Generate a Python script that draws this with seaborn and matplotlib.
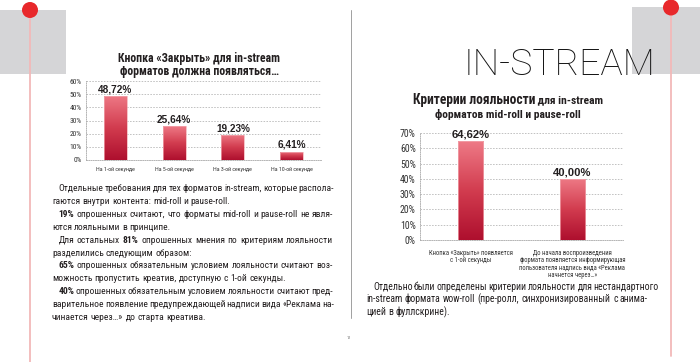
import math
import matplotlib
matplotlib.use("Agg")
import numpy as np
import pandas as pd
import seaborn as sns
import matplotlib.pyplot as plt
from matplotlib import font_manager as fm
from matplotlib.colors import LinearSegmentedColormap
from matplotlib.patches import Rectangle, Circle
from matplotlib.lines import Line2D

# ---------------- data ----------------
left_title_lines = ["Кнопка «Закрыть» для in-stream", "форматов должна появляться…"]
left_categories = ["На 1-ой секунде", "На 5-ой секунде", "На 3-ой секунде", "На 10-ой секунде"]
left_values = [48.72, 25.64, 19.23, 6.41]
left_yticks = [0, 10, 20, 30, 40, 50, 60]

right_title_line1 = [("Критерии лояльности", 1.18), (" для in-stream", 1.0)]
right_title_line2 = "форматов mid-roll и pause-roll"
right_categories = ["Кнопка «Закрыть» появляется\nс 1-ой секунды",
                    "До начала воспроизведения\nформата появляется информирующая\n"
                    "пользователя надпись вида «Реклама\nначнется через…»"]
right_values = [64.62, 40.00]
right_yticks = [0, 10, 20, 30, 40, 50, 60, 70]

heading = "IN-STREAM"
page_number = "12"

# (line, indented, justified)
left_paragraph = [
    ("Отдельные требования для тех форматов in-stream, которые распола-", True, True),
    ("гаются внутри контента: mid-roll и pause-roll.", False, False),
    ("**19%** опрошенных считают, что форматы mid-roll и pause-roll не явля-", True, True),
    ("ются лояльными в принципе.", False, False),
    ("Для остальных **81%** опрошенных мнения по критериям лояльности", True, True),
    ("разделились следующим образом:", False, False),
    ("**65%** опрошенных обязательным условием лояльности считают воз-", True, True),
    ("можность пропустить креатив, доступную с 1-ой секунды.", False, False),
    ("**40%** опрошенных обязательным условием лояльности считают пред-", True, True),
    ("варительное появление предупреждающей надписи вида «Реклама на-", False, True),
    ("чинается через…» до старта креатива.", False, False),
]
right_paragraph = [
    ("Отдельно были определены критерии лояльности для нестандартного", True, True),
    ("in-stream формата wow-roll (пре-ролл, синхронизированный с анима-", False, True),
    ("цией в фуллскрине).", False, False),
]

# ---------------- fonts ----------------
entries = fm.fontManager.ttflist
names = {f.name for f in entries}
COND, STRETCH = None, "normal"
for cand in ["Roboto Condensed", "Liberation Sans Narrow", "Noto Sans Condensed",
             "Noto Sans SemiCondensed", "Open Sans Condensed", "Open Sans SemiCondensed"]:
    if cand in names:
        COND = cand
        break
if COND is None:
    for fam in ["Roboto", "Noto Sans", "DejaVu Sans", "Open Sans"]:
        if any(f.name == fam and str(f.stretch) in ("condensed", "semi-condensed") for f in entries):
            COND, STRETCH = fam, "condensed"
            break
if COND is None:
    COND = "Liberation Sans"

def has_weight(fam, w):
    for f in entries:
        if f.name == fam:
            try:
                if int(f.weight) == w:
                    return True
            except Exception:
                if str(f.weight) == "light" and w == 300:
                    return True
    return False

LIGHT = "Liberation Sans"
for fam in ["Roboto", "Lato", "Open Sans", "Noto Sans", "Inter"]:
    if has_weight(fam, 300):
        LIGHT = fam
        break
VALFONT = "Liberation Sans" if "Liberation Sans" in names else "DejaVu Sans"

sns.set_style("white")
plt.rcParams["font.family"] = [COND, "DejaVu Sans"]
plt.rcParams["font.stretch"] = STRETCH

TEXT = "#231f20"
CMAP = LinearSegmentedColormap.from_list("bar", ["#ae0f2e", "#d23c4f", "#ee7a86"])

# ---------------- figure ----------------
W, H = 700, 362
fig = plt.figure(figsize=(W / 100, H / 100), dpi=100)
fig.patch.set_facecolor("white")
bg = fig.add_axes([0, 0, 1, 1], zorder=0)
bg.set_xlim(0, W)
bg.set_ylim(H, 0)
bg.axis("off")
R = fig.canvas.get_renderer()


def text_width(s, size, weight="normal", family=None, stretch=None):
    t = bg.text(0, 0, s, fontsize=size, fontweight=weight,
                family=family or [COND, "DejaVu Sans"], fontstretch=stretch or STRETCH)
    w = t.get_window_extent(R).width
    t.remove()
    return w


def fit_size(s, target, weight="normal", family=None, stretch=None):
    return 10 * target / text_width(s, 10, weight, family, stretch)


def snap_baseline(t, y):
    """Place a single-line text so its rendered baseline lands exactly on pixel row y."""
    _, h, d = R.get_text_width_height_descent(t.get_text(), t.get_fontproperties(), False)
    t.set_y(y + math.floor(h) - math.floor(h - d) - d)


# decorations
bg.add_patch(Rectangle((0, 10), 66, 64, color="#d5d5d7", zorder=1, lw=0))
bg.add_patch(Rectangle((632, 7), 68, 67, color="#d5d5d7", zorder=1, lw=0))
bg.add_line(Line2D([30, 30], [10, 362], color="#f2b9b9", lw=1.3, zorder=2))
bg.add_line(Line2D([671, 671], [7, 356], color="#f2b9b9", lw=1.3, zorder=2))
bg.add_patch(Circle((30, 10), 8, color="#e8282b", zorder=3, lw=0))
bg.add_patch(Circle((671, 7.5), 8, color="#e8282b", zorder=3, lw=0))
bg.add_line(Line2D([351, 351], [10, 318], color="#a0a0a0", lw=0.7, zorder=2))
bg.text(349, 338, page_number, fontsize=3, color="#666", ha="center", va="center")

# heading
hs = fit_size(heading, 192, weight="light", family=[LIGHT], stretch="normal")
bg.text(559, 75, heading, fontsize=hs, family=[LIGHT], fontweight="light",
        fontstretch="normal", color="#141414", ha="center", va="baseline", zorder=4)

# left title
ts = fit_size(left_title_lines[0], 162, weight="bold")
for s, yb in zip(left_title_lines, [62, 75]):
    t = bg.text(199, yb, s, fontsize=ts, fontweight="bold", color=TEXT, ha="center", va="baseline")
    snap_baseline(t, yb)

# right title (rich first line)
rs = fit_size(right_title_line2, 146, weight="bold")
widths = [text_width(t, rs * k, "bold") for t, k in right_title_line1]
x = 508 - sum(widths) / 2
for (s, k), w in zip(right_title_line1, widths):
    t = bg.text(x, 104, s, fontsize=rs * k, fontweight="bold", color=TEXT, ha="left", va="baseline")
    snap_baseline(t, 104)
    x += w
t = bg.text(508, 118, right_title_line2, fontsize=rs, fontweight="bold", color=TEXT,
            ha="center", va="baseline")
snap_baseline(t, 118)


# paragraphs
def parse(line):
    return [(w.replace("**", ""), w.startswith("**")) for w in line.split()]


def draw_paragraph(lines, x0, x1, indent, y0, dy, size):
    space = text_width("a a", size) - text_width("aa", size)
    for i, (line, ind, just) in enumerate(lines):
        y = float(round(y0 + i * dy))
        xs = x0 + (indent if ind else 0)
        objs, ws = [], []
        for w, b in parse(line):
            t = bg.text(0, y, w, fontsize=size, fontweight="bold" if b else "normal",
                        va="baseline", ha="left", color=TEXT)
            ws.append(t.get_window_extent(R).width)
            snap_baseline(t, y)
            objs.append(t)
        gap = (x1 - xs - sum(ws)) / (len(ws) - 1) if (just and len(ws) > 1) else space
        gap = max(gap, space * 0.6)
        xx = xs
        for t, w in zip(objs, ws):
            t.set_x(xx)
            xx += w + gap


ls = fit_size("можность пропустить креатив, доступную с 1-ой секунды.", 230)
draw_paragraph(left_paragraph, 52, 333, 6.5, 191, 12.9, ls)
draw_paragraph(right_paragraph, 366, 648, 7, 290, 12.5, ls * 1.04)


# charts
def px_rect(x0, x1, ytop, ybot):
    return [x0 / W, 1 - ybot / H, (x1 - x0) / W, (ybot - ytop) / H]


def bar_chart(rect, cats, vals, yticks, bar_width, tick_px, cat_ref, cat_px, val_px, cat_pad):
    ax = fig.add_axes(rect, zorder=2)
    ax.set_facecolor("none")
    df = pd.DataFrame({"cat": cats, "val": vals})
    sns.barplot(data=df, x="cat", y="val", color="#c8283c", width=bar_width, saturation=1,
                errorbar=None, ax=ax, zorder=3)
    grad = np.linspace(0, 1, 256).reshape(-1, 1)
    vsize = fit_size("48,72%", val_px, weight="bold", family=[VALFONT], stretch="normal")
    for p, v in zip(ax.patches, vals):
        x0, y0, w, h = p.get_x(), p.get_y(), p.get_width(), p.get_height()
        im = ax.imshow(grad, extent=[x0, x0 + w, y0, y0 + h], origin="lower", aspect="auto",
                       cmap=CMAP, zorder=3.5, interpolation="bilinear")
        im.set_clip_path(p)
        p.set_facecolor("none")
        p.set_edgecolor("#f3a9b1")
        p.set_linewidth(0.5)
        p.set_zorder(4)
        ax.annotate(f"{v:.2f}".replace(".", ",") + "%", (x0 + w / 2, v), xytext=(0, 1.2),
                    textcoords="offset points", ha="center", va="bottom", fontsize=vsize,
                    fontweight="bold", family=[VALFONT], fontstretch="normal", color=TEXT, zorder=5)
    n = len(cats)
    ax.set_xlim(-0.5, n - 0.5)
    ax.set_ylim(0, yticks[-1])
    ax.set_yticks(yticks)
    tsize = fit_size(f"{yticks[-1]}%", tick_px)
    ax.set_yticklabels([f"{t}%" for t in yticks], fontsize=tsize, color="#333")
    ax.set_xticks(range(n))
    csize = fit_size(cat_ref, cat_px)
    ax.set_xticklabels(cats, fontsize=csize, color="#333", linespacing=1.1)
    ax.set_xticks(np.arange(-0.5, n, 1), minor=True)
    ax.tick_params(axis="x", which="major", length=0, pad=cat_pad)
    ax.tick_params(axis="x", which="minor", length=2.5, width=0.6, color="#aaaaaa", direction="inout")
    ax.tick_params(axis="y", length=0, pad=3)
    ax.set_xlabel("")
    ax.set_ylabel("")
    ax.set_axisbelow(True)
    ax.yaxis.grid(True, color="#b0b0b0", linestyle=(0, (2.0, 1.8)), linewidth=0.55)
    ax.xaxis.grid(False)
    for s in ["top", "right"]:
        ax.spines[s].set_visible(False)
    for s in ["left", "bottom"]:
        ax.spines[s].set_color("#a8a8a8")
        ax.spines[s].set_linestyle((0, (1.2, 1.5)))
        ax.spines[s].set_linewidth(0.6)
    return ax


bar_chart(px_rect(86, 321, 81, 160), left_categories, left_values, left_yticks, 0.39,
          12, "На 1-ой секунде", 39, 34, 5)
bar_chart(px_rect(420, 623, 133, 240), right_categories, right_values, right_yticks, 0.25,
          16, "Кнопка «Закрыть» появляется", 84, 38, 7)

fig.savefig("out.png", dpi=100, facecolor="white")
